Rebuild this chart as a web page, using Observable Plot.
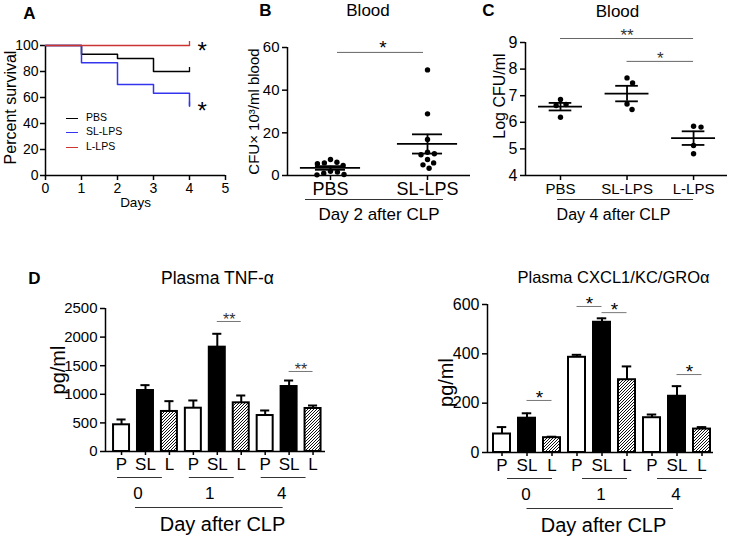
<!DOCTYPE html>
<html>
<head>
<meta charset="utf-8">
<script src="https://cdn.jsdelivr.net/npm/d3@7"></script>
<script src="https://cdn.jsdelivr.net/npm/@observablehq/plot@0.6"></script>
<style>
html,body{margin:0;padding:0;background:#fff;}
#fig{position:relative;width:731px;height:536px;overflow:hidden;background:#fff;font-family:"Liberation Sans",Arial,Helvetica,sans-serif;color:#000;}
.panel{position:absolute;}
.panel svg{display:block;overflow:visible;}
.panel g[aria-label*="axis"] line,.panel g[aria-label*="axis"] path{stroke:#000;stroke-width:1.5px;}
#pA g[aria-label^="x-axis"] text,#pA g[aria-label^="y-axis"] text{font-size:14px;}
#pB g[aria-label^="x-axis"] text{font-size:18px;}
#pB g[aria-label^="y-axis"] text{font-size:15px;}
#pC g[aria-label^="x-axis"] text{font-size:15px;}
#pC g[aria-label^="y-axis"] text{font-size:16px;}
#pD1 g[aria-label^="x-axis"] text{font-size:17px;}
#pD1 g[aria-label^="y-axis"] text{font-size:15px;}
#pD2 g[aria-label^="x-axis"] text{font-size:17px;}
#pD2 g[aria-label^="y-axis"] text{font-size:16px;}
.leg{position:absolute;font-size:10.5px;line-height:12px;white-space:nowrap;}
.leg .sw{display:inline-block;width:12px;height:0;vertical-align:middle;margin-right:8px;}
</style>
</head>
<body>
<div id="fig"></div>
<script>
// ================= DATA =================
// Panel A – survival (%)
const survivalGroups = ["PBS", "SL-LPS", "L-LPS"];
const survivalDays = [0, 1, 2, 3, 4];
const survivalPBS = [100, 93.3, 90, 80, 80];
const survivalSL = [100, 86.7, 70, 63.3, 53.3];
const survivalL = [100, 100, 100, 100, 100];
const survivalStars = [{day: 4.35, pct: 100, label: "*"}, {day: 4.35, pct: 54, label: "*"}];
const aXTicks = [0, 1, 2, 3, 4, 5];
const aYTicks = [0, 20, 40, 60, 80, 100];

// Panel B – blood CFU x10^3/ml, day 2
const bGroups = ["PBS", "SL-LPS"];
const bPBS = [7.5, 6.2, 5.9, 5.5, 4.7, 2.0, 1.6, 1.1, 0.5, 0.3];
const bSL = [49.5, 28.9, 16.9, 10.9, 10.2, 9.7, 7.5, 5.9, 5.0, 3.4];
const bYTicks = [0, 20, 40, 60];
const bSig = [{from: 0, to: 1, y: 57.7, label: "*"}];

// Panel C – log CFU/ml, day 4
const cGroups = ["PBS", "SL-LPS", "L-LPS"];
const cPBS = [6.86, 6.67, 6.63, 6.19];
const cSL = [7.67, 7.48, 6.69, 6.48];
const cL = [5.85, 5.82, 5.13, 4.82];
const cYTicks = [4, 5, 6, 7, 8, 9];
const cSig = [{from: 0, to: 2, y: 9.15, label: "**"}, {from: 1, to: 2, y: 8.29, label: "*"}];

// Panel D – plasma cytokines (mean, SEM) ordered day 0 P/SL/L, day 1 P/SL/L, day 4 P/SL/L
const dDays = ["0", "1", "4"];
const dTreat = ["P", "SL", "L"];
const tnfMean = [467, 1066, 700, 757, 1824, 851, 629, 1136, 752];
const tnfSem = [93, 94, 180, 135, 234, 128, 88, 105, 52];
const tnfTicks = [0, 500, 1000, 1500, 2000, 2500];
const tnfSig = [{day: "1", a: "SL", b: "L", y: 2273, label: "**"}, {day: "4", a: "SL", b: "L", y: 1399, label: "**"}];
const cxclMean = [75, 139, 60, 386, 528, 295, 141, 228, 95];
const cxclSem = [28, 20, 4, 10, 16, 54, 13, 41, 8];
const cxclTicks = [0, 200, 400, 600];
const cxclSig = [
  {day: "0", a: "SL", b: "L", y: 211, label: "*"},
  {day: "1", a: "P", b: "SL", y: 592, label: "*"},
  {day: "1", a: "SL", b: "L", y: 567, label: "*"},
  {day: "4", a: "SL", b: "L", y: 316, label: "*"}
];

// ================= HELPERS =================
const FONT = '"Liberation Sans", Arial, Helvetica, sans-serif';
const baseStyle = {fontFamily: FONT, fontSize: "13px", color: "black", background: "transparent", overflow: "visible"};
const intFmt = d3.format("d");
const fig = document.getElementById("fig");
function mount(el, id, left, top) {
  const div = document.createElement("div");
  div.className = "panel"; div.id = id;
  div.style.left = left + "px"; div.style.top = top + "px";
  div.appendChild(el); fig.appendChild(div);
  return div;
}
const note = (txt, o) => Plot.text([txt], {text: d => d, textAnchor: "middle", lineAnchor: "middle", fill: "black", ...o});
const stat = v => { const m = d3.mean(v), s = d3.deviation(v) / Math.sqrt(v.length); return {mean: m, lo: m - s, hi: m + s}; };
// simple beeswarm: returns horizontal pixel offsets
function swarm(values, pxPerUnit, diam) {
  const placed = [], out = new Array(values.length);
  const order = values.map((v, i) => i).sort((a, b) => values[b] - values[a]);
  for (const i of order) {
    const py = values[i] * pxPerUnit;
    const cands = [0];
    for (const p of placed) {
      const dy = Math.abs(p.y - py);
      if (dy < diam) { const w = Math.sqrt(diam * diam - dy * dy); cands.push(p.x + w, p.x - w); }
    }
    cands.sort((a, b) => Math.abs(a) - Math.abs(b) || b - a);
    let best = 0;
    for (const c of cands) {
      if (placed.every(p => (p.x - c) ** 2 + (p.y - py) ** 2 >= diam * diam - 1e-6)) { best = c; break; }
    }
    placed.push({x: best, y: py}); out[i] = best;
  }
  return out;
}

// ================= PANEL A =================
{
  const L = {w: 240, h: 225, mt: 45, mr: 15, mb: 50, ml: 45};
  const colors = {"PBS": "#000000", "SL-LPS": "#3434ee", "L-LPS": "#cc3333"};
  const series = [survivalPBS, survivalSL, survivalL];
  const rows = survivalGroups.flatMap((g, s) => survivalDays.map((d, i) => ({group: g, day: d, pct: series[s][i]})));
  const ends = survivalGroups.map((g, s) => ({group: g, day: survivalDays[survivalDays.length - 1], pct: series[s][series[s].length - 1]}));
  const svg = Plot.plot({
    width: L.w, height: L.h, marginTop: L.mt, marginRight: L.mr, marginBottom: L.mb, marginLeft: L.ml,
    style: baseStyle,
    x: {domain: [0, 5], ticks: aXTicks, tickFormat: intFmt, tickSize: 5, tickPadding: 3, label: null},
    y: {domain: [0, 100], ticks: aYTicks, tickFormat: intFmt, tickSize: 5, tickPadding: 2, label: null},
    marks: [
      Plot.ruleX([0], {strokeWidth: 1.5}),
      Plot.ruleY([0], {strokeWidth: 1.5}),
      ...survivalGroups.map(g => Plot.line(rows.filter(r => r.group === g), {x: "day", y: "pct", curve: "step-after", stroke: colors[g], strokeWidth: 1.5})),
      ...survivalGroups.map(g => Plot.ruleX(ends.filter(r => r.group === g), {x: "day", y1: "pct", y2: "pct", insetTop: -4, stroke: colors[g], strokeWidth: 1.3})),
      Plot.text(survivalStars, {x: "day", y: "pct", text: "label", fontSize: 24, dy: 6}),
      note("A", {frameAnchor: "top-left", dx: -16, dy: -32, fontSize: 17, fontWeight: "bold"}),
      note("Percent survival", {frameAnchor: "left", rotate: -90, dx: -35, dy: -3, fontSize: 16}),
      note("Days", {frameAnchor: "bottom", dy: 27, fontSize: 13.5})
    ]
  });
  const div = mount(svg, "pA", 0, 0);
  const legTops = [117, 131, 146];
  survivalGroups.forEach((g, k) => {
    const e = document.createElement("div");
    e.className = "leg";
    e.style.left = "66px"; e.style.top = (legTops[k] - 6) + "px";
    e.innerHTML = `<span class="sw" style="border-top:1.5px solid ${colors[g]}"></span>${g}`;
    div.appendChild(e);
  });
}

// ================= PANEL B =================
{
  const L = {w: 240, h: 225, mt: 47, mr: 10, mb: 50, ml: 47};
  const fw = L.w - L.ml - L.mr, fh = L.h - L.mt - L.mb;
  const pad = 0.443;
  const xd = [-pad, bGroups.length - 1 + pad];
  const ux = fw / (xd[1] - xd[0]), uy = fh / 60;
  const groups = [bPBS, bSL];
  const dots = groups.flatMap((v, g) => { const off = swarm(v, uy, 7); return v.map((y, i) => ({x: g + off[i] / ux, y})); });
  const st = groups.map((v, g) => ({g, ...stat(v)}));
  const svg = Plot.plot({
    width: L.w, height: L.h, marginTop: L.mt, marginRight: L.mr, marginBottom: L.mb, marginLeft: L.ml,
    style: baseStyle,
    x: {domain: xd, ticks: d3.range(bGroups.length), tickFormat: i => bGroups[i], tickSize: 5, tickPadding: 2, label: null},
    y: {domain: [0, 60], ticks: bYTicks, tickFormat: intFmt, tickSize: 5, tickPadding: 3, label: null},
    marks: [
      Plot.ruleX([xd[0]], {strokeWidth: 1.5}),
      Plot.ruleY([0], {strokeWidth: 1.5}),
      Plot.dot(dots, {x: "x", y: "y", r: 2.7, fill: "black"}),
      Plot.ruleY(st, {y: "mean", x1: d => d.g - 0.31, x2: d => d.g + 0.31, strokeWidth: 1.8}),
      Plot.ruleX(st, {x: "g", y1: "lo", y2: "hi", strokeWidth: 1.8}),
      Plot.ruleY(st, {y: "hi", x1: d => d.g - 0.155, x2: d => d.g + 0.155, strokeWidth: 1.8}),
      Plot.ruleY(st, {y: "lo", x1: d => d.g - 0.155, x2: d => d.g + 0.155, strokeWidth: 1.8}),
      Plot.ruleY(bSig, {y: "y", x1: "from", x2: "to", insetLeft: 7, insetRight: 4, stroke: "#666", strokeWidth: 1}),
      Plot.text(bSig, {x: d => (d.from + d.to) / 2, y: "y", text: "label", fontSize: 19, dx: 4, dy: -5}),
      Plot.ruleY([{}], {y: 0, x1: () => 0, x2: () => 1, dy: 24, insetLeft: -25, insetRight: -16, stroke: "#333", strokeWidth: 1}),
      note("Day 2 after CLP", {frameAnchor: "bottom", dy: 39, fontSize: 17}),
      note("B", {frameAnchor: "top-left", dx: -22, dy: -37, fontSize: 17, fontWeight: "bold"}),
      note("Blood", {frameAnchor: "top", dx: -11, dy: -37, fontSize: 17}),
      note("CFU\u00d7 10\u00b3/ml blood", {frameAnchor: "left", rotate: -90, dx: -33, dy: 0, fontSize: 15})
    ]
  });
  mount(svg, "pB", 240, 0);
}

// ================= PANEL C =================
{
  const L = {w: 251, h: 225, mt: 42, mr: 4, mb: 50, ml: 45};
  const fw = L.w - L.ml - L.mr, fh = L.h - L.mt - L.mb;
  const xd = [-0.526, cGroups.length - 1 + 0.51];
  const ux = fw / (xd[1] - xd[0]), uy = fh / 5;
  const groups = [cPBS, cSL, cL];
  const dots = groups.flatMap((v, g) => { const off = swarm(v, uy, 7.5); return v.map((y, i) => ({x: g + off[i] / ux, y})); });
  const st = groups.map((v, g) => ({g, ...stat(v)}));
  const svg = Plot.plot({
    width: L.w, height: L.h, marginTop: L.mt, marginRight: L.mr, marginBottom: L.mb, marginLeft: L.ml,
    style: baseStyle,
    x: {domain: xd, ticks: d3.range(cGroups.length), tickFormat: i => cGroups[i], tickSize: 5, tickPadding: 3, label: null},
    y: {domain: [4, 9], ticks: cYTicks, tickFormat: intFmt, tickSize: 5, tickPadding: 3, label: null},
    marks: [
      Plot.ruleX([xd[0]], {strokeWidth: 1.5}),
      Plot.ruleY([4], {strokeWidth: 1.5}),
      Plot.dot(dots, {x: "x", y: "y", r: 2.7, fill: "black"}),
      Plot.ruleY(st, {y: "mean", x1: d => d.g - 0.33, x2: d => d.g + 0.33, strokeWidth: 1.8}),
      Plot.ruleX(st, {x: "g", y1: "lo", y2: "hi", strokeWidth: 1.8}),
      Plot.ruleY(st, {y: "hi", x1: d => d.g - 0.17, x2: d => d.g + 0.17, strokeWidth: 1.8}),
      Plot.ruleY(st, {y: "lo", x1: d => d.g - 0.17, x2: d => d.g + 0.17, strokeWidth: 1.8}),
      Plot.ruleY(cSig, {y: "y", x1: "from", x2: "to", stroke: "#666", strokeWidth: 1}),
      Plot.text(cSig, {x: d => (d.from + d.to) / 2, y: "y", text: "label", fontSize: 17, fill: "#333", dy: -3}),
      Plot.ruleY([{}], {y: 4, x1: () => 0, x2: () => 2, dy: 24, insetLeft: -3, insetRight: 0, stroke: "#333", strokeWidth: 1}),
      note("Day 4 after CLP", {frameAnchor: "bottom", dx: -13, dy: 39, fontSize: 16}),
      note("C", {frameAnchor: "top-left", dx: -37, dy: -32, fontSize: 17, fontWeight: "bold"}),
      note("Blood", {frameAnchor: "top", dx: -9, dy: -31, fontSize: 17}),
      note("Log CFU/ml", {frameAnchor: "left", rotate: -90, dx: -26, dy: -13, fontSize: 16})
    ]
  });
  mount(svg, "pC", 480, 0);
}

// ================= PANEL D =================
function addHatch(svg, id) {
  const defs = d3.select(svg).insert("defs", ":first-child");
  const p = defs.append("pattern").attr("id", id).attr("patternUnits", "userSpaceOnUse").attr("width", 3).attr("height", 3);
  p.append("rect").attr("width", 3).attr("height", 3).attr("fill", "white");
  p.append("path").attr("d", "M-1,1 l2,-2 M0,3 l3,-3 M2,4 l2,-2").attr("stroke", "#111").attr("stroke-width", 1);
}
function barPanel(c) {
  const rows = dDays.flatMap((day, g) => dTreat.map((t, k) => {
    const i = g * 3 + k;
    return {i, day, treat: t, mean: c.mean[i], top: c.mean[i] + c.sem[i]};
  }));
  const idx = (day, t) => dDays.indexOf(day) * 3 + dTreat.indexOf(t);
  const fills = {P: "white", SL: "black", L: `url(#${c.hatch})`};
  const groups = dDays.map((d, g) => ({d, g}));
  const svg = Plot.plot({
    width: c.w, height: c.h, marginTop: c.mt, marginRight: c.mr, marginBottom: c.mb, marginLeft: c.ml,
    style: baseStyle,
    color: {type: "identity"},
    x: {domain: c.xd, ticks: d3.range(9), tickFormat: i => dTreat[i % 3], tickSize: 4, tickPadding: 2, label: null},
    y: {domain: [0, c.ticks[c.ticks.length - 1]], ticks: c.ticks, tickFormat: intFmt, tickSize: 5, tickPadding: 3, label: null},
    marks: [
      Plot.ruleX([c.xd[0]], {strokeWidth: 1.5}),
      Plot.ruleY([0], {strokeWidth: 1.5}),
      Plot.rectY(rows, {x1: d => d.i - c.barHalf, x2: d => d.i + c.barHalf, y1: 0, y2: "mean", fill: d => fills[d.treat], stroke: "black", strokeWidth: 2}),
      Plot.ruleX(rows, {x: "i", y1: "mean", y2: "top", strokeWidth: 2}),
      Plot.ruleY(rows, {y: "top", x1: d => d.i - c.capHalf, x2: d => d.i + c.capHalf, strokeWidth: 2}),
      Plot.ruleY(c.sig, {y: "y", x1: d => idx(d.day, d.a), x2: d => idx(d.day, d.b), stroke: "#777", strokeWidth: 1}),
      Plot.text(c.sig, {x: d => (idx(d.day, d.a) + idx(d.day, d.b)) / 2, y: "y", text: "label", fontSize: c.starSize, fill: c.starColor, dy: c.starDy}),
      Plot.ruleY(groups, {y: 0, x1: d => d.g * 3, x2: d => d.g * 3 + 2, dy: 26, insetLeft: c.gIn[0], insetRight: c.gIn[1], stroke: "#333", strokeWidth: 1}),
      Plot.text(groups, {x: d => d.g * 3 + 1, y: 0, text: "d", dy: 42, dx: c.gDx, fontSize: 17}),
      Plot.ruleY([{}], {y: 0, x1: () => 1, x2: () => 7, dy: 56, insetLeft: c.bIn[0], insetRight: c.bIn[1], stroke: "#333", strokeWidth: 1}),
      note("Day after CLP", {frameAnchor: "bottom", dx: c.dayDx, dy: 73, fontSize: 20}),
      note(c.title, {frameAnchor: "top", dx: c.titleDx, dy: c.titleDy, fontSize: c.titleSize}),
      note("pg/ml", {frameAnchor: "left", rotate: -90, dx: c.ylDx, dy: c.ylDy, fontSize: 20}),
      ...(c.letter ? [note(c.letter, {frameAnchor: "top-left", dx: -71, dy: -30, fontSize: 17, fontWeight: "bold"})] : [])
    ]
  });
  addHatch(svg, c.hatch);
  return svg;
}
mount(barPanel({
  w: 370, h: 296, mt: 68, mr: 45, mb: 85, ml: 105,
  xd: [-0.67, 8.52], barHalf: 0.334, capHalf: 0.19,
  mean: tnfMean, sem: tnfSem, ticks: tnfTicks, sig: tnfSig,
  starSize: 16, starColor: "#333", starDy: -1.5,
  gIn: [-4, 7], gDx: -7.5, bIn: [-10, 6], dayDx: 7,
  title: "Plasma TNF-\u03b1", titleSize: 17.5, titleDx: 2, titleDy: -30, ylDx: -47, ylDy: -10,
  hatch: "hatchTNF", letter: "D"
}), "pD1", 0, 240);
mount(barPanel({
  w: 361, h: 296, mt: 64, mr: 18, mb: 84, ml: 117,
  xd: [-0.58, 8.46], barHalf: 0.34, capHalf: 0.19,
  mean: cxclMean, sem: cxclSem, ticks: cxclTicks, sig: cxclSig,
  starSize: 19, starColor: "#000", starDy: -3,
  gIn: [5.5, -0.5], gDx: -1, bIn: [0, 3.5], dayDx: 3,
  title: "Plasma CXCL1/KC/GRO\u03b1", titleSize: 16.5, titleDx: 13, titleDy: -26.5, ylDx: -41, ylDy: 4,
  hatch: "hatchCXCL", letter: null
}), "pD2", 370, 240);
</script>
</body>
</html>
